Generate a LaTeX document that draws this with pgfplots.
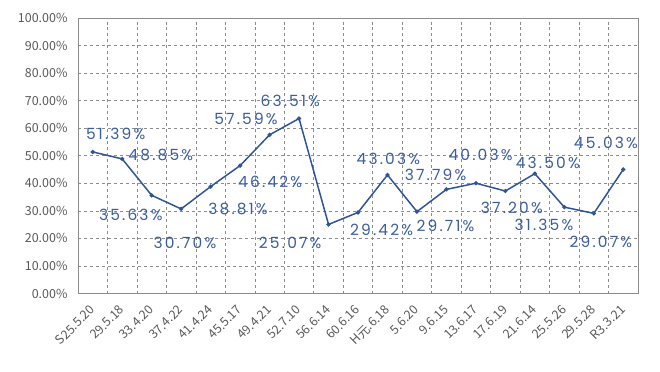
\documentclass[border=0pt]{standalone}
\usepackage{pgfplots}
\pgfplotsset{compat=1.18}
\usepackage{pgfplotstable}
\usepackage{fontspec}
\setmainfont{Noto Sans CJK JP}
\newfontfamily\lblfont[LetterSpace=14]{Poppins}
\definecolor{tickgray}{HTML}{595959}
\definecolor{gridgray}{HTML}{8C8C8C}
\definecolor{lineblue}{HTML}{2F5597}
\definecolor{lblblue}{HTML}{3A5DA0}

\pgfplotstableread{
x y
0 51.39
1 48.85
2 35.63
3 30.70
4 38.81
5 46.42
6 57.59
7 63.51
8 25.07
9 29.42
10 43.03
11 29.71
12 37.79
13 40.03
14 37.20
15 43.50
16 31.35
17 29.07
18 45.03
}\datatable

\pgfplotstableread{
lx ly lab
0.78 58.0 51.39\%
2.31 50.4 48.85\%
1.29 28.5 35.63\%
3.13 18.4 30.70\%
4.93 30.7 38.81\%
6.02 40.5 46.42\%
5.20 63.5 57.59\%
6.70 70.0 63.51\%
6.70 18.4 25.07\%
9.80 23.1 29.42\%
10.03 48.9 43.03\%
11.97 24.5 29.71\%
11.63 43.1 37.79\%
13.16 50.4 40.03\%
14.22 31.1 37.20\%
15.44 47.5 43.50\%
15.31 24.9 31.35\%
17.24 18.7 29.07\%
17.41 54.7 45.03\%
}\labeltable

\begin{document}
\begin{tikzpicture}
\begin{axis}[
  scale only axis,
  width=560bp, height=275.5bp,
  xmin=-0.5, xmax=18.5,
  ymin=0, ymax=100,
  ytick={0,10,...,100},
  yticklabel={\pgfmathprintnumber[fixed,fixed zerofill,precision=2]{\tick}\%},
  /pgf/number format/assume math mode=true,
  xtick={0,...,18},
  xticklabels={S25.5.20,29.5.18,33.4.20,37.4.22,41.4.24,45.5.17,49.4.21,52.7.10,56.6.14,60.6.16,H元.6.18,5.6.20,9.6.15,13.6.17,17.6.19,21.6.14,25.5.26,29.5.28,R3.3.21},
  x tick label style={rotate=45, anchor=north east, inner sep=0pt, xshift=-10bp, yshift=-4.7bp},
  y tick label style={xshift=-7bp},
  minor xtick={0.5,1.5,...,17.5},
  xmajorgrids=false,
  xminorgrids=true,
  ymajorgrids=true,
  minor grid style={gridgray, dashed, line width=0.6pt},
  major grid style={gridgray, dashed, line width=0.6pt},
  major tick length=0pt, minor tick length=0pt,
  axis line style={gridgray, line width=0.8pt},
  tick label style={font=\fontsize{12.5}{13}\selectfont, text=tickgray},
  clip=false,
]
\addplot[lineblue, line width=1.5pt, mark=*, mark size=1.3pt, mark options={fill=lineblue}] table[x=x,y=y]{\datatable};
\addplot[draw=none, mark=none, nodes near coords, point meta=explicit symbolic,
  nodes near coords style={anchor=center, font=\lblfont\fontsize{15.5}{16}\selectfont, text=lblblue, inner sep=0pt}]
  table[x=lx,y=ly,meta=lab]{\labeltable};
\end{axis}
\path[use as bounding box] (current axis.south west) ++(-78bp,-78.5bp) rectangle ++(660bp,372bp);
\end{tikzpicture}
\end{document}
